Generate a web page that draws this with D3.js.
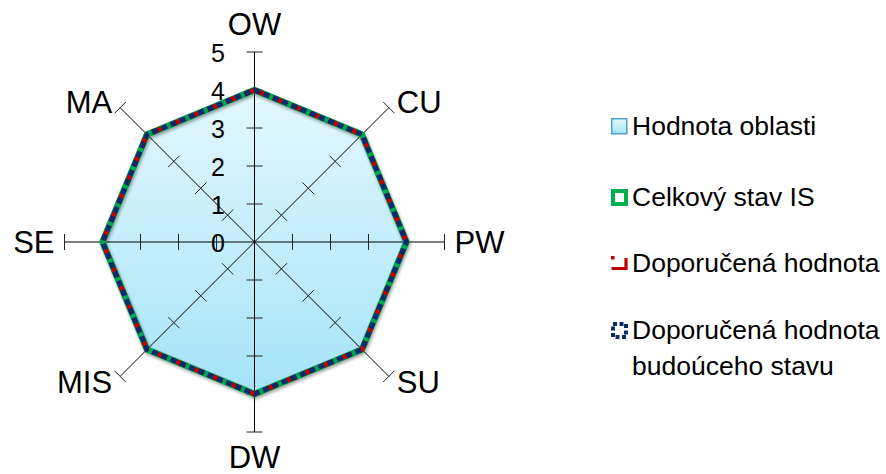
<!DOCTYPE html>
<html>
<head>
<meta charset="utf-8">
<script src="https://cdn.jsdelivr.net/npm/d3@7"></script>
<style>
  body { margin: 0; background: #fff; }
  svg { display: block; font-family: "Liberation Sans", Arial, sans-serif; }
</style>
</head>
<body>
<script>
'use strict';

// axes of the radar, clockwise from the top
const axes = ["OW", "CU", "PW", "SU", "DW", "MIS", "SE", "MA"];
const tickValues = [0, 1, 2, 3, 4, 5];

// series values, one per axis
const hodnotaOblasti = [4, 4, 4, 4, 4, 4, 4, 4];
const celkovyStav = [4, 4, 4, 4, 4, 4, 4, 4];
const doporucenaHodnota = [4, 4, 4, 4, 4, 4, 4, 4];
const doporucenaBuduci = [4, 4, 4, 4, 4, 4, 4, 4];

const legendLabels = [
  ["Hodnota oblasti"],
  ["Celkový stav IS"],
  ["Doporučená hodnota"],
  ["Doporučená hodnota", "budoúceho stavu"]
];

(function() {
  const width = 886, height = 474;
  const cx = 254.5, cy = 242;

  const svg = d3.select('body').append('svg')
    .attr('width', width)
    .attr('height', height);

  const defs = svg.append('defs');
  const grad = defs.append('linearGradient')
    .attr('id', 'fillGrad')
    .attr('x1', 0).attr('y1', 0).attr('x2', 0).attr('y2', 1);
  grad.append('stop').attr('offset', '0%').attr('stop-color', '#e4f8fe');
  grad.append('stop').attr('offset', '100%').attr('stop-color', '#a5e3f8');

  const shadow = defs.append('filter').attr('id', 'shadow')
    .attr('x', '-10%').attr('y', '-10%').attr('width', '120%').attr('height', '120%');
  shadow.append('feDropShadow')
    .attr('dx', 1).attr('dy', 2).attr('stdDeviation', 1.5)
    .attr('flood-color', '#000').attr('flood-opacity', 0.35);

  // scales
  const r = d3.scaleLinear().domain([0, 5]).range([0, 190]);
  const angle = d3.scaleLinear().domain([0, axes.length]).range([0, 2 * Math.PI]);

  const g = svg.append('g').attr('transform', `translate(${cx},${cy})`);

  const pt = (i, v) => [Math.sin(angle(i)) * r(v), -Math.cos(angle(i)) * r(v)];

  const line = d3.line()
    .x((d, i) => pt(i, d)[0])
    .y((d, i) => pt(i, d)[1])
    .curve(d3.curveLinearClosed);

  // filled area
  g.append('path')
    .datum(hodnotaOblasti)
    .attr('d', line)
    .attr('fill', 'url(#fillGrad)')
    .attr('stroke', 'none');

  // axes with ticks
  axes.forEach((name, i) => {
    const end = pt(i, 5);
    g.append('line')
      .attr('x1', 0).attr('y1', 0)
      .attr('x2', end[0]).attr('y2', end[1])
      .attr('stroke', '#000')
      .attr('stroke-width', 1);

    const a = angle(i);
    const px = Math.cos(a), py = Math.sin(a); // perpendicular direction
    tickValues.slice(1).forEach(v => {
      const p = pt(i, v);
      g.append('line')
        .attr('x1', p[0] - px * 8).attr('y1', p[1] - py * 8)
        .attr('x2', p[0] + px * 8).attr('y2', p[1] + py * 8)
        .attr('stroke', '#222')
        .attr('stroke-width', 1);
    });

    // axis label
    const s = Math.sin(a), c = -Math.cos(a);
    let lx = end[0], ly = end[1], anchor = 'middle';
    if (Math.abs(s) < 0.01) {
      ly = c < 0 ? end[1] - 17 : end[1] + 36;
    } else if (Math.abs(c) < 0.01) {
      lx = end[0] + (s > 0 ? 10 : -10);
      anchor = s > 0 ? 'start' : 'end';
      ly = end[1] + 11;
    } else {
      lx = end[0] + (s > 0 ? 8 : -8);
      anchor = s > 0 ? 'start' : 'end';
      ly = c < 0 ? end[1] + 5 : end[1] + 17;
    }
    svg.append('text')
      .attr('x', cx + lx)
      .attr('y', cy + ly)
      .attr('text-anchor', anchor)
      .style('font-size', '31px')
      .attr('fill', '#000')
      .text(name);
  });

  // tick labels on the top axis
  tickValues.forEach(v => {
    svg.append('text')
      .attr('x', 225)
      .attr('y', cy - r(v) + 9.5)
      .attr('text-anchor', 'end')
      .style('font-size', '25px')
      .attr('fill', '#000')
      .text(v);
  });

  // series lines
  g.append('path')
    .datum(celkovyStav)
    .attr('d', line)
    .attr('fill', 'none')
    .attr('stroke', '#00a650')
    .attr('stroke-width', 6.5)
    .attr('stroke-linejoin', 'round')
    .attr('filter', 'url(#shadow)');

  g.append('path')
    .datum(doporucenaHodnota)
    .attr('d', line)
    .attr('fill', 'none')
    .attr('stroke', '#c00000')
    .attr('stroke-width', 5)
    .attr('stroke-dasharray', '10,10');

  g.append('path')
    .datum(doporucenaBuduci)
    .attr('d', line)
    .attr('fill', 'none')
    .attr('stroke', '#0d2a6b')
    .attr('stroke-width', 5)
    .attr('stroke-dasharray', '6,4');

  // legend
  const legendRows = [126, 197, 263, 330];
  const legend = svg.append('g');
  legendLabels.forEach((lines, i) => {
    const y = legendRows[i];
    const m = legend.append('g').attr('transform', `translate(611,${y - 8})`);
    if (i === 0) {
      m.append('rect').attr('x', 0.75).attr('y', 0.75).attr('width', 15).attr('height', 15)
        .attr('fill', 'url(#fillGrad)').attr('stroke', '#4aa3c4').attr('stroke-width', 1.5);
    } else if (i === 1) {
      m.append('rect').attr('x', 2).attr('y', 2).attr('width', 13).attr('height', 13)
        .attr('fill', '#fff').attr('stroke', '#00b050').attr('stroke-width', 4);
    } else if (i === 2) {
      m.append('rect').attr('x', 0).attr('y', 1).attr('width', 3.5).attr('height', 3.5).attr('fill', '#c00000');
      m.append('path').attr('d', 'M0.5,13.5 H15 V3')
        .attr('fill', 'none').attr('stroke', '#c00000').attr('stroke-width', 3.2);
    } else {
      m.append('rect').attr('x', 2).attr('y', 2).attr('width', 13).attr('height', 13)
        .attr('fill', 'none').attr('stroke', '#0d2a6b').attr('stroke-width', 4)
        .attr('stroke-dasharray', '4,2.5');
    }
    lines.forEach((t, j) => {
      legend.append('text')
        .attr('x', 632)
        .attr('y', y + 9 + j * 36)
        .style('font-size', '26.5px')
        .attr('fill', '#000')
        .text(t);
    });
  });
})();
</script>
</body>
</html>
